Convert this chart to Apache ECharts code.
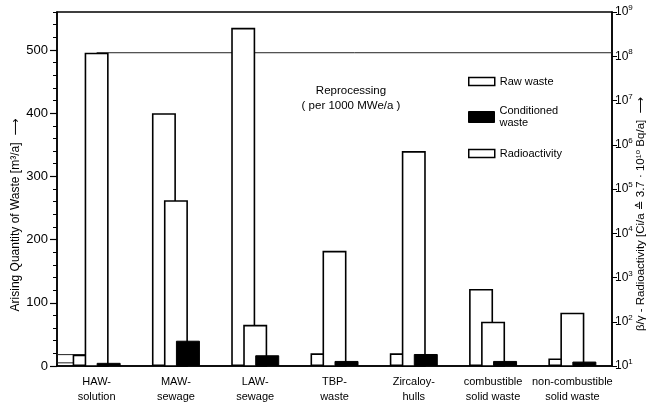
<!DOCTYPE html>
<html><head><meta charset="utf-8">
<script src="https://cdn.jsdelivr.net/npm/echarts@6/dist/echarts.min.js"></script>
<style>html,body{margin:0;padding:0;background:#fff}#c{width:649px;height:406px}</style>
</head><body><div id="c"></div>
<script>
const categories = ['HAW-\nsolution','MAW-\nsewage','LAW-\nsewage','TBP-\nwaste','Zircaloy-\nhulls','combustible\nsolid waste','non-combustible\nsolid waste'];
const rawWaste = [18, 400, 535, 20, 20, 122, 12];
const conditionedWaste = [5, 40, 17, 8, 19, 8, 7];
const radioactivity = [1.2e8, 5.6e4, 85, 4000, 7.2e5, 100, 160];
const leftTicks = [0, 100, 200, 300, 400, 500];
const leftMax = 560;
const rightMin = 1e1, rightMax = 1e9;

const FONT = '"Liberation Sans", "DejaVu Sans", Arial, sans-serif';
const chart = echarts.init(document.getElementById('c'), null, {renderer:'canvas'});
const barBase = {type:'bar', barWidth:24, barGap:'-50%', animation:false, xAxisIndex:0};
const guide = {type:'line', xAxisIndex:1, showSymbol:false, symbol:'none', silent:true, animation:false, z:1,
  lineStyle:{color:'#222', width:1}};
const nCat = categories.length;

chart.setOption({
  backgroundColor:'#fff',
  textStyle:{fontFamily:FONT, color:'#000'},
  grid:{left:57, right:37, top:12, bottom:40, show:true, borderColor:'#000', borderWidth:1.5, backgroundColor:'transparent'},
  xAxis:[
    {type:'category', data:categories, gridIndex:0,
     axisLine:{lineStyle:{color:'#000', width:1.5}}, axisTick:{show:false},
     axisLabel:{color:'#000', fontSize:11, lineHeight:15, margin:8, fontFamily:FONT, interval:0}},
    {type:'value', min:0, max:nCat, show:false, gridIndex:0}
  ],
  yAxis:[
    {type:'value', position:'left', min:0, max:leftMax, interval:20,
     axisLine:{show:true, lineStyle:{color:'#000', width:1.5}},
     axisTick:{show:true, length:4, lineStyle:{color:'#000', width:1}},
     axisLabel:{color:'#000', fontSize:13, margin:9, fontFamily:FONT,
       formatter:v => leftTicks.indexOf(v) >= 0 ? String(v) : ''},
     splitLine:{show:false}},
    {type:'log', logBase:10, position:'right', min:rightMin, max:rightMax,
     axisLine:{show:true, lineStyle:{color:'#000', width:1.5}},
     axisTick:{show:true, length:5, lineStyle:{color:'#000', width:1}},
     minorTick:{show:false},
     axisLabel:{color:'#000', margin:3, fontFamily:FONT,
       formatter:v => '{b|10}{s|' + Math.round(Math.log10(v)) + '}',
       rich:{b:{fontSize:12, lineHeight:16, fontFamily:FONT, color:'#000'},
             s:{fontSize:8, verticalAlign:'top', lineHeight:16, fontFamily:FONT, color:'#000'}}},
     splitLine:{show:false}},
    {type:'value', position:'left', min:0, max:leftMax, interval:100,
     axisLine:{show:false},
     axisTick:{show:true, length:7, customValues:leftTicks, lineStyle:{color:'#000', width:1.2}},
     axisLabel:{show:false}, splitLine:{show:false}}
  ],
  legend:[
    {data:[{name:'Raw waste', itemStyle:{color:'#fff', borderColor:'#000', borderWidth:1.5}}],
     left:468, top:76, padding:0, itemWidth:26, itemHeight:8, icon:'rect', selectedMode:false,
     textStyle:{fontSize:11, color:'#000', fontFamily:FONT}},
    {data:[{name:'Conditioned\nwaste', itemStyle:{color:'#000', borderColor:'#000', borderWidth:1}}],
     left:468, top:105, padding:0, itemWidth:26, itemHeight:11, icon:'rect', selectedMode:false,
     textStyle:{fontSize:11, lineHeight:12, color:'#000', fontFamily:FONT}},
    {data:[{name:'Radioactivity', itemStyle:{color:'#fff', borderColor:'#000', borderWidth:1.5}}],
     left:468, top:148, padding:0, itemWidth:26, itemHeight:8, icon:'rect', selectedMode:false,
     textStyle:{fontSize:11, color:'#000', fontFamily:FONT}}
  ],
  graphic:[
    {type:'text', x:16, y:215, rotation:Math.PI/2,
     style:{text:'Arising Quantity of Waste [m³/a]  ⟶', fontSize:12, fontFamily:FONT, fill:'#000', align:'center', verticalAlign:'middle'}},
    {type:'text', x:641, y:214, rotation:Math.PI/2,
     style:{text:'β/γ - Radioactivity [Ci/a ≙ 3.7 · 10¹⁰ Bq/a]  ⟶', fontSize:11.5, fontFamily:FONT, fill:'#000', align:'center', verticalAlign:'middle'}},
    {type:'text', x:351, y:98,
     style:{text:'Reprocessing\n( per 1000 MWe/a )', fontSize:11.5, lineHeight:15, fontFamily:FONT, fill:'#000', align:'center', verticalAlign:'middle'}}
  ],
  series:[
    Object.assign({}, guide, {name:'g1', yAxisIndex:1, data:[[0.5, radioactivity[0]], [nCat, radioactivity[0]]]}),
    Object.assign({}, guide, {name:'g2', yAxisIndex:0, data:[[0, rawWaste[0]], [0.5, rawWaste[0]]]}),
    Object.assign({}, guide, {name:'g3', yAxisIndex:0, data:[[0, conditionedWaste[0]], [0.5, conditionedWaste[0]]]}),
    Object.assign({}, barBase, {name:'Raw waste', yAxisIndex:0, data:rawWaste, z:2,
      itemStyle:{color:'#fff', borderColor:'#000', borderWidth:1.6}}),
    Object.assign({}, barBase, {name:'Radioactivity', yAxisIndex:1, data:radioactivity, z:3,
      itemStyle:{color:'#fff', borderColor:'#000', borderWidth:1.6}}),
    Object.assign({}, barBase, {name:'Conditioned\nwaste', yAxisIndex:0, data:conditionedWaste, z:4,
      itemStyle:{color:'#000', borderColor:'#000', borderWidth:1}})
  ]
});
</script></body></html>
